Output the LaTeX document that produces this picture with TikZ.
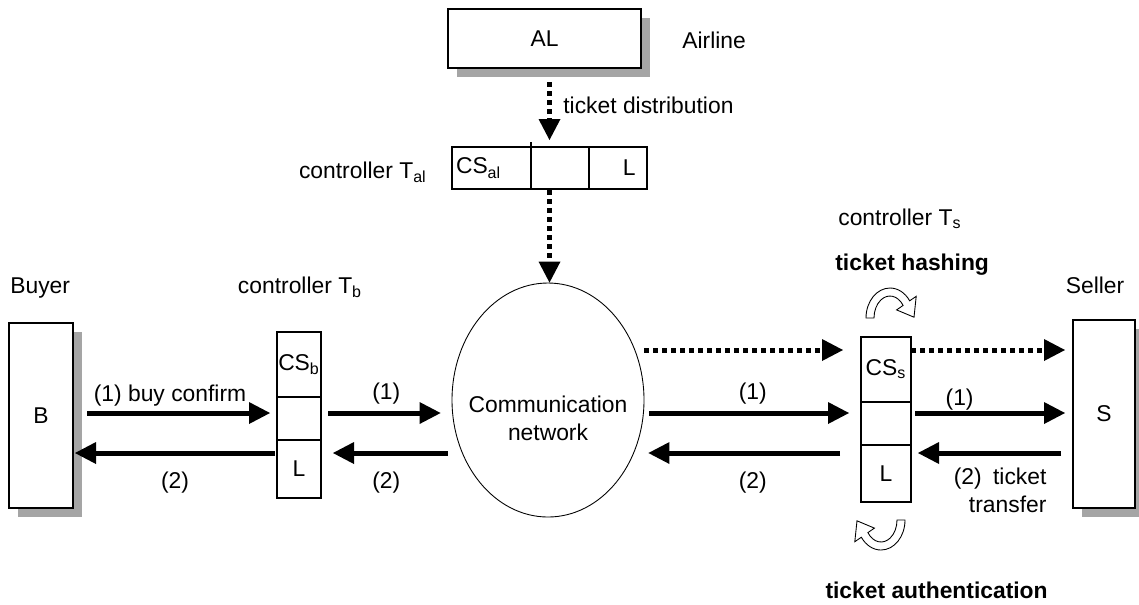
\documentclass[tikz,border=0pt]{standalone}
\usepackage{fontspec}
\setmainfont{Liberation Sans}
\usepackage{tikz}
\usetikzlibrary{positioning, calc, shapes.geometric, arrows.meta, shadows}
\definecolor{shadowGray}{RGB}{165, 165, 165}

\begin{document}
\begin{tikzpicture}[
    font=\fontsize{13}{15.5}\selectfont,
    box/.style={draw, line width=0.6pt, fill=white, inner sep=0pt, outer sep=0pt,
      drop shadow={shadow xshift=0.17cm, shadow yshift=-0.17cm, fill=shadowGray, opacity=1}},
    cell/.style={draw, line width=0.6pt, inner sep=0pt, outer sep=0pt},
    flow/.style={line width=0.1cm, -{Triangle[length=0.42cm, width=0.44cm, line width=0pt]}},
    dflow/.style={flow, dash pattern=on 0.09cm off 0.09cm},
    txt/.style={inner sep=0pt},
    bold/.style={inner sep=0pt, font=\fontsize{13}{15.5}\selectfont\bfseries},
    turn/.pic={
      \draw[line width=0.5pt, fill=white, scale=0.02]
        (-24,0) arc[start angle=180, end angle=35, x radius=24, y radius=30]
        -- (26.2,21.7) -- (24,0.8) -- (6.6,8.1) -- (13.1,12.6)
        arc[start angle=35, end angle=180, x radius=16, y radius=22] -- cycle;
    },
  ]
    \useasboundingbox (0,0) rectangle (22.78,-12.08);

    % Airline
    \node[box, minimum width=3.86cm, minimum height=1.18cm] (al) at (10.89,-0.77) {AL};
    \node[txt, anchor=base west] (airline) at (13.64,-0.96) {Airline};

    % Controller T_al
    \node[cell, minimum width=1.58cm, minimum height=0.84cm, text width=1.42cm, align=left] (talcs) at (9.83,-3.36) {CS\textsubscript{al}};
    \node[cell, minimum width=1.16cm, minimum height=0.84cm, right=0pt of talcs] (talmid) {};
    \node[cell, minimum width=1.16cm, minimum height=0.84cm, text width=0.7cm, align=right, right=0pt of talmid] (tall) {L};
    \draw[line width=0.6pt] (talcs.north east) -- ++(0,0.1);
    \coordinate (taltop) at ($(talcs.north west)!0.5!(tall.north east)$);
    \coordinate (talbot) at ($(talcs.south west)!0.5!(tall.south east)$);
    \node[txt, anchor=base east] (taltext) at (8.54,-3.56) {controller T\textsubscript{al}};

    % Buyer and controller T_b
    \node[box, minimum width=1.28cm, minimum height=3.7cm] (buyer) at (0.82,-8.31) {B};
    \node[txt, anchor=base west] (buyertext) at (0.2,-5.86) {Buyer};
    \node[cell, minimum width=0.88cm, minimum height=1.3cm] (tbcs) at (5.98,-7.29) {CS\textsubscript{b}};
    \node[cell, minimum width=0.88cm, minimum height=0.86cm, below=0pt of tbcs] (tbmid) {};
    \node[cell, minimum width=0.88cm, minimum height=1.16cm, below=0pt of tbmid] (tbl) {L};
    \node[txt, anchor=base] (tbtext) at (6.0,-5.86) {controller T\textsubscript{b}};

    % Network
    \node[draw, ellipse, line width=0.5pt, minimum width=3.84cm, minimum height=4.68cm,
      inner sep=0pt] (net) at (10.96,-8.0) {};
    \node[align=center, below=-0.2cm of net.center] (nettext) {Communication\\network};

    % Seller and controller T_s
    \node[cell, minimum width=1.0cm, minimum height=1.3cm] (tscs) at (17.72,-7.39) {CS\textsubscript{s}};
    \node[cell, minimum width=1.0cm, minimum height=0.86cm, below=0pt of tscs] (tsmid) {};
    \node[cell, minimum width=1.0cm, minimum height=1.14cm, below=0pt of tsmid] (tsl) {L};
    \node[txt, anchor=base west] (tstext) at (16.76,-4.5) {controller T\textsubscript{s}};
    \node[bold, anchor=base west] (hashtext) at (16.7,-5.4) {ticket hashing};
    \node[bold, anchor=base east] (authtext) at (20.96,-11.96) {ticket authentication};
    \pic at (17.8,-6.36) {turn};
    \pic[rotate=180] at (17.62,-10.4) {turn};
    \node[box, minimum width=1.24cm, minimum height=3.76cm] (seller) at (22.08,-8.28) {S};
    \node[txt, anchor=base] (sellertext) at (21.9,-5.86) {Seller};

    % Rows of arrows
    \coordinate (row0) at (0,-7.0);
    \coordinate (row1) at (0,-8.26);
    \coordinate (row2) at (0,-9.06);

    % Ticket distribution
    \draw[dflow, shorten <=0.28cm, shorten >=0.14cm] (al.south -| taltop) -- (taltop);
    \node[txt, anchor=base west] (distext) at (11.26,-2.26) {ticket distribution};
    \draw[dflow, shorten <=0.02cm] (talbot) -- (talbot |- net.north);

    % Buyer side
    \draw[flow, shorten <=0.28cm, shorten >=0.14cm] (buyer.east |- row1) -- (tbmid.west |- row1)
          node[midway, above=-0.04cm, xshift=-0.1cm] {(1) buy confirm};
    \draw[flow, shorten <=0.04cm, shorten >=0.04cm] (tbl.west |- row2) -- (buyer.east |- row2)
          node[midway, below=0.22cm] {(2)};
    \draw[flow, shorten <=0.14cm, shorten >=0.22cm] (tbmid.east |- row1) -- (net.west |- row1)
          node[midway, above] {(1)};
    \draw[flow, shorten <=0.08cm, shorten >=0.24cm] (net.west |- row2) -- (tbl.east |- row2)
          node[midway, below=0.22cm] {(2)};

    % Seller side
    \draw[dflow, shorten >=0.36cm] (net.east |- row0) -- (tscs.west |- row0);
    \draw[flow, shorten <=0.1cm, shorten >=0.24cm] (net.east |- row1) -- (tsmid.west |- row1)
          node[midway, above] {(1)};
    \draw[flow, shorten <=0.42cm, shorten >=0.08cm] (tsl.west |- row2) -- (net.east |- row2)
          node[midway, below=0.22cm] {(2)};
    \draw[dflow, shorten >=0.16cm] (tscs.east |- row0) -- (seller.west |- row0);
    \draw[flow, shorten <=0.08cm, shorten >=0.16cm] (tsmid.east |- row1) -- (seller.west |- row1)
          node[pos=0.3, above=-0.12cm] {(1)};
    \draw[flow, shorten <=0.24cm, shorten >=0.14cm] (seller.west |- row2) -- (tsl.east |- row2)
          node[pos=0.45, below=0.14cm, align=right] {(2)\enspace ticket\\transfer};
  \end{tikzpicture}
\end{document}
